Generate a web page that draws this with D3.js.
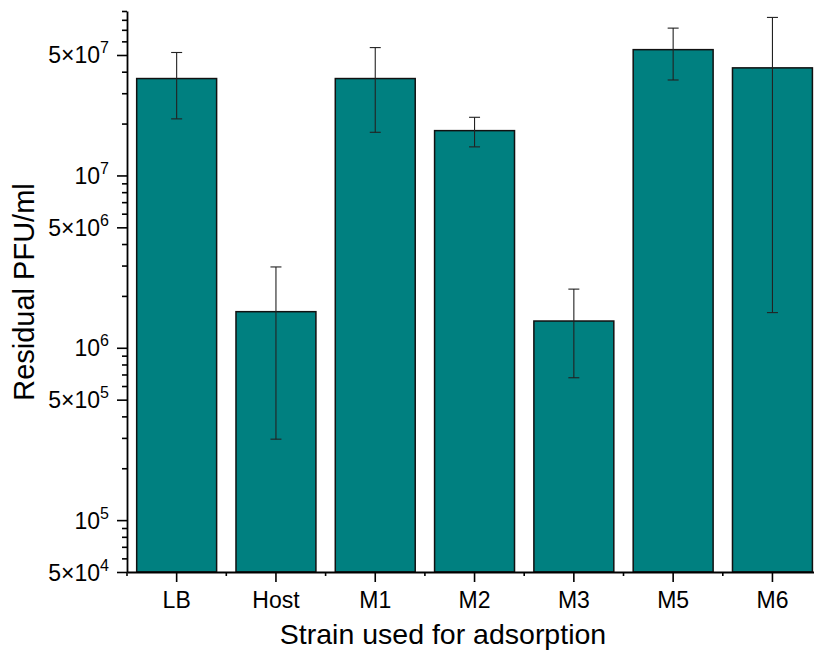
<!DOCTYPE html>
<html>
<head>
<meta charset="utf-8">
<script src="https://cdn.jsdelivr.net/npm/d3@7"></script>
<style>
  body { margin: 0; background: #fff; }
  text { font-family: "Liberation Sans", Arial, sans-serif; fill: #000; }
</style>
</head>
<body>
<div id="chart"></div>
<script>
var svgWidth = 814;
var svgHeight = 659;

// data
var strains = ["LB", "Host", "M1", "M2", "M3", "M5", "M6"];
var meanPFU = [3.65e7, 1.62e6, 3.65e7, 1.82e7, 1.43e6, 5.37e7, 4.21e7];
var sdPFU = [1.52e7, 1.325e6, 1.87e7, 0.355e7, 0.76e6, 1.79e7, 4.05e7];

var yMajor = [5e4, 1e5, 5e5, 1e6, 5e6, 1e7, 5e7];
var yMinor = [6e4, 7e4, 8e4, 9e4,
  2e5, 3e5, 4e5, 6e5, 7e5, 8e5, 9e5,
  2e6, 3e6, 4e6, 6e6, 7e6, 8e6, 9e6,
  2e7, 3e7, 4e7, 6e7, 7e7, 8e7, 9e7];

var margin = { top: 11, left: 127, bottom: 87 };
var plotBottom = svgHeight - margin.bottom;
var plotRight = margin.left + 7 * 99.3;

var svg = d3.select("#chart")
  .append("svg")
  .attr("width", svgWidth)
  .attr("height", svgHeight);

var x = d3.scaleBand()
  .domain(strains)
  .range([margin.left, plotRight])
  .paddingInner(0.195)
  .paddingOuter(0.0975);

var y = d3.scaleLog()
  .domain([5e4, 9e7])
  .range([plotBottom, margin.top]);

var data = strains.map(function(s, i) {
  return { strain: s, mean: meanPFU[i], sd: sdPFU[i] };
});

// bars
svg.append("g")
  .selectAll("rect")
  .data(data)
  .enter()
  .append("rect")
  .attr("x", d => x(d.strain))
  .attr("y", d => y(d.mean))
  .attr("width", x.bandwidth())
  .attr("height", d => plotBottom - y(d.mean))
  .attr("fill", "#008080")
  .attr("stroke", "#111")
  .attr("stroke-width", 1.5);

// error bars
var err = svg.append("g")
  .attr("stroke", "#222")
  .attr("stroke-width", 1.1)
  .selectAll("g")
  .data(data)
  .enter()
  .append("g");

err.append("line")
  .attr("x1", d => x(d.strain) + x.bandwidth() / 2)
  .attr("x2", d => x(d.strain) + x.bandwidth() / 2)
  .attr("y1", d => y(d.mean + d.sd))
  .attr("y2", d => y(d.mean - d.sd));

err.append("line")
  .attr("x1", d => x(d.strain) + x.bandwidth() / 2 - 5.5)
  .attr("x2", d => x(d.strain) + x.bandwidth() / 2 + 5.5)
  .attr("y1", d => y(d.mean + d.sd))
  .attr("y2", d => y(d.mean + d.sd));

err.append("line")
  .attr("x1", d => x(d.strain) + x.bandwidth() / 2 - 5.5)
  .attr("x2", d => x(d.strain) + x.bandwidth() / 2 + 5.5)
  .attr("y1", d => y(d.mean - d.sd))
  .attr("y2", d => y(d.mean - d.sd));

// y axis: minor then major ticks
svg.append("g")
  .attr("transform", `translate(${margin.left},0)`)
  .call(d3.axisLeft(y).tickValues(yMinor).tickSize(5).tickSizeOuter(0).tickFormat(""))
  .call(g => g.select(".domain").remove())
  .selectAll("line").attr("stroke-width", 1.6);

var yAxis = svg.append("g")
  .attr("transform", `translate(${margin.left},0)`)
  .call(d3.axisLeft(y).tickValues(yMajor).tickSize(10).tickSizeOuter(0).tickFormat(""));

yAxis.select(".domain").attr("stroke-width", 1.8);
yAxis.selectAll(".tick line").attr("stroke-width", 1.6);

yAxis.selectAll(".tick").each(function(d) {
  var exp = Math.floor(Math.log10(d) + 1e-9);
  var mant = Math.round(d / Math.pow(10, exp));
  var t = d3.select(this).append("text")
    .attr("x", -18)
    .attr("y", 8)
    .attr("text-anchor", "end")
    .style("font-size", "23px");
  t.append("tspan").text(mant === 1 ? "10" : mant + "\u00d710");
  t.append("tspan").attr("dy", -10).style("font-size", "16px").text(exp);
});

// x axis: minor ticks at band edges, major at centres
var edges = strains.map(s => x(s) - x.step() * x.paddingInner() / 2);
edges.push(plotRight);

svg.append("g")
  .selectAll("line")
  .data(edges)
  .enter()
  .append("line")
  .attr("x1", d => d)
  .attr("x2", d => d)
  .attr("y1", plotBottom)
  .attr("y2", plotBottom + 4)
  .attr("stroke", "#000")
  .attr("stroke-width", 1.6);

var xAxis = svg.append("g")
  .attr("transform", `translate(0,${plotBottom})`)
  .call(d3.axisBottom(x).tickSize(10).tickSizeOuter(0));

xAxis.select(".domain").attr("stroke-width", 1.8);
xAxis.selectAll(".tick line").attr("stroke-width", 1.6);
xAxis.selectAll(".tick text")
  .attr("y", 20)
  .attr("dy", "0.71em")
  .style("font-size", "23px")
  .style("font-family", "'Liberation Sans', Arial, sans-serif");

// axis titles
svg.append("text")
  .attr("x", 443)
  .attr("y", 644)
  .attr("text-anchor", "middle")
  .style("font-size", "28.5px")
  .text("Strain used for adsorption");

svg.append("text")
  .attr("transform", "translate(34,292) rotate(-90)")
  .attr("text-anchor", "middle")
  .style("font-size", "29px")
  .text("Residual PFU/ml");
</script>
</body>
</html>
